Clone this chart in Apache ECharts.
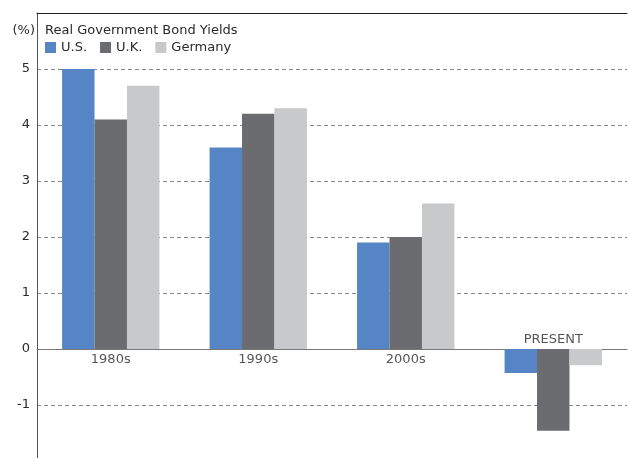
<!DOCTYPE html>
<html><head><meta charset="utf-8">
<script src="https://cdn.jsdelivr.net/npm/echarts@6/dist/echarts.min.js"></script>
<style>html,body{margin:0;padding:0;background:#fff}#c{width:628px;height:458px}</style>
</head><body><div id="c"></div>
<script>
var categories = ['1980s', '1990s', '2000s', 'PRESENT'];
var usValues = [5.0, 3.6, 1.9, -0.43];
var ukValues = [4.1, 4.2, 2.0, -1.46];
var germanyValues = [4.7, 4.3, 2.6, -0.29];
var seriesNames = ['U.S.', 'U.K.', 'Germany'];
var titleText = 'Real Government Bond Yields';
var unitText = '(%)';

var font = 'DejaVu Sans';
var fs = 13;
var chart = echarts.init(document.getElementById('c'), null, {renderer: 'canvas'});
var colors = ['#5585c5', '#6b6c70', '#c8c9cb'];
function isNeg(i) { return usValues[i] < 0 && ukValues[i] < 0 && germanyValues[i] < 0; }
var belowLabels = [], aboveLabels = [];
categories.forEach(function (c, i) { (isNeg(i) ? aboveLabels : belowLabels).push([c, 0]); });
var lblStyle = {fontFamily: font, fontSize: fs, color: '#2a2a2a'};

chart.setOption({
  animation: false,
  textStyle: {fontFamily: font},
  color: colors,
  title: {text: titleText, left: 45, top: 24, padding: 0, textStyle: {fontFamily: font, fontSize: fs, fontWeight: 'normal', color: '#2a2a2a'}},
  legend: {
    data: seriesNames, left: 45, top: 41, padding: 0, itemWidth: 11, itemHeight: 11, itemGap: 13,
    icon: 'rect', textStyle: {fontFamily: font, fontSize: fs, color: '#2a2a2a'}
  },
  grid: {left: 37, right: 1, top: 13, bottom: -3, outerBoundsMode: 'none', containLabel: false},
  xAxis: [{
    type: 'category', data: categories, position: 'bottom',
    axisLine: {onZero: true, lineStyle: {color: '#777', width: 1}},
    axisTick: {show: false},
    axisLabel: {show: false}
  }, {
    type: 'category', data: categories, position: 'top',
    axisLine: {onZero: false, lineStyle: {color: '#222', width: 1}},
    axisTick: {show: false}, axisLabel: {show: false}
  }],
  yAxis: {
    type: 'value', min: -2, max: 6, interval: 1,
    name: unitText, nameLocation: 'end', nameGap: -18,
    nameTextStyle: {fontFamily: font, fontSize: fs, color: '#2a2a2a', align: 'right', verticalAlign: 'middle', padding: [0, 2, 0, 0]},
    axisLine: {show: true, lineStyle: {color: '#555'}},
    axisTick: {show: false},
    axisLabel: {margin: 7, fontFamily: font, fontSize: fs, color: '#2a2a2a', showMaxLabel: false, showMinLabel: false},
    splitLine: {show: true, lineStyle: {color: '#888', type: [4, 3], width: 1}}
  },
  series: [
    {name: seriesNames[0], type: 'bar', data: usValues, barGap: '0%', barCategoryGap: '34%', itemStyle: {color: colors[0]}},
    {name: seriesNames[1], type: 'bar', data: ukValues, barGap: '0%', barCategoryGap: '34%', itemStyle: {color: colors[1]}},
    {name: seriesNames[2], type: 'bar', data: germanyValues, barGap: '0%', barCategoryGap: '34%', itemStyle: {color: colors[2]}},
    {type: 'scatter', data: belowLabels, symbolSize: 0, silent: true,
     label: Object.assign({show: true, position: 'bottom', distance: 4, formatter: function (p) { return p.value[0]; }}, lblStyle)},
    {type: 'scatter', data: aboveLabels, symbolSize: 0, silent: true,
     label: Object.assign({show: true, position: 'top', distance: 3, formatter: function (p) { return p.value[0]; }}, lblStyle)}
  ]
});
</script></body></html>
